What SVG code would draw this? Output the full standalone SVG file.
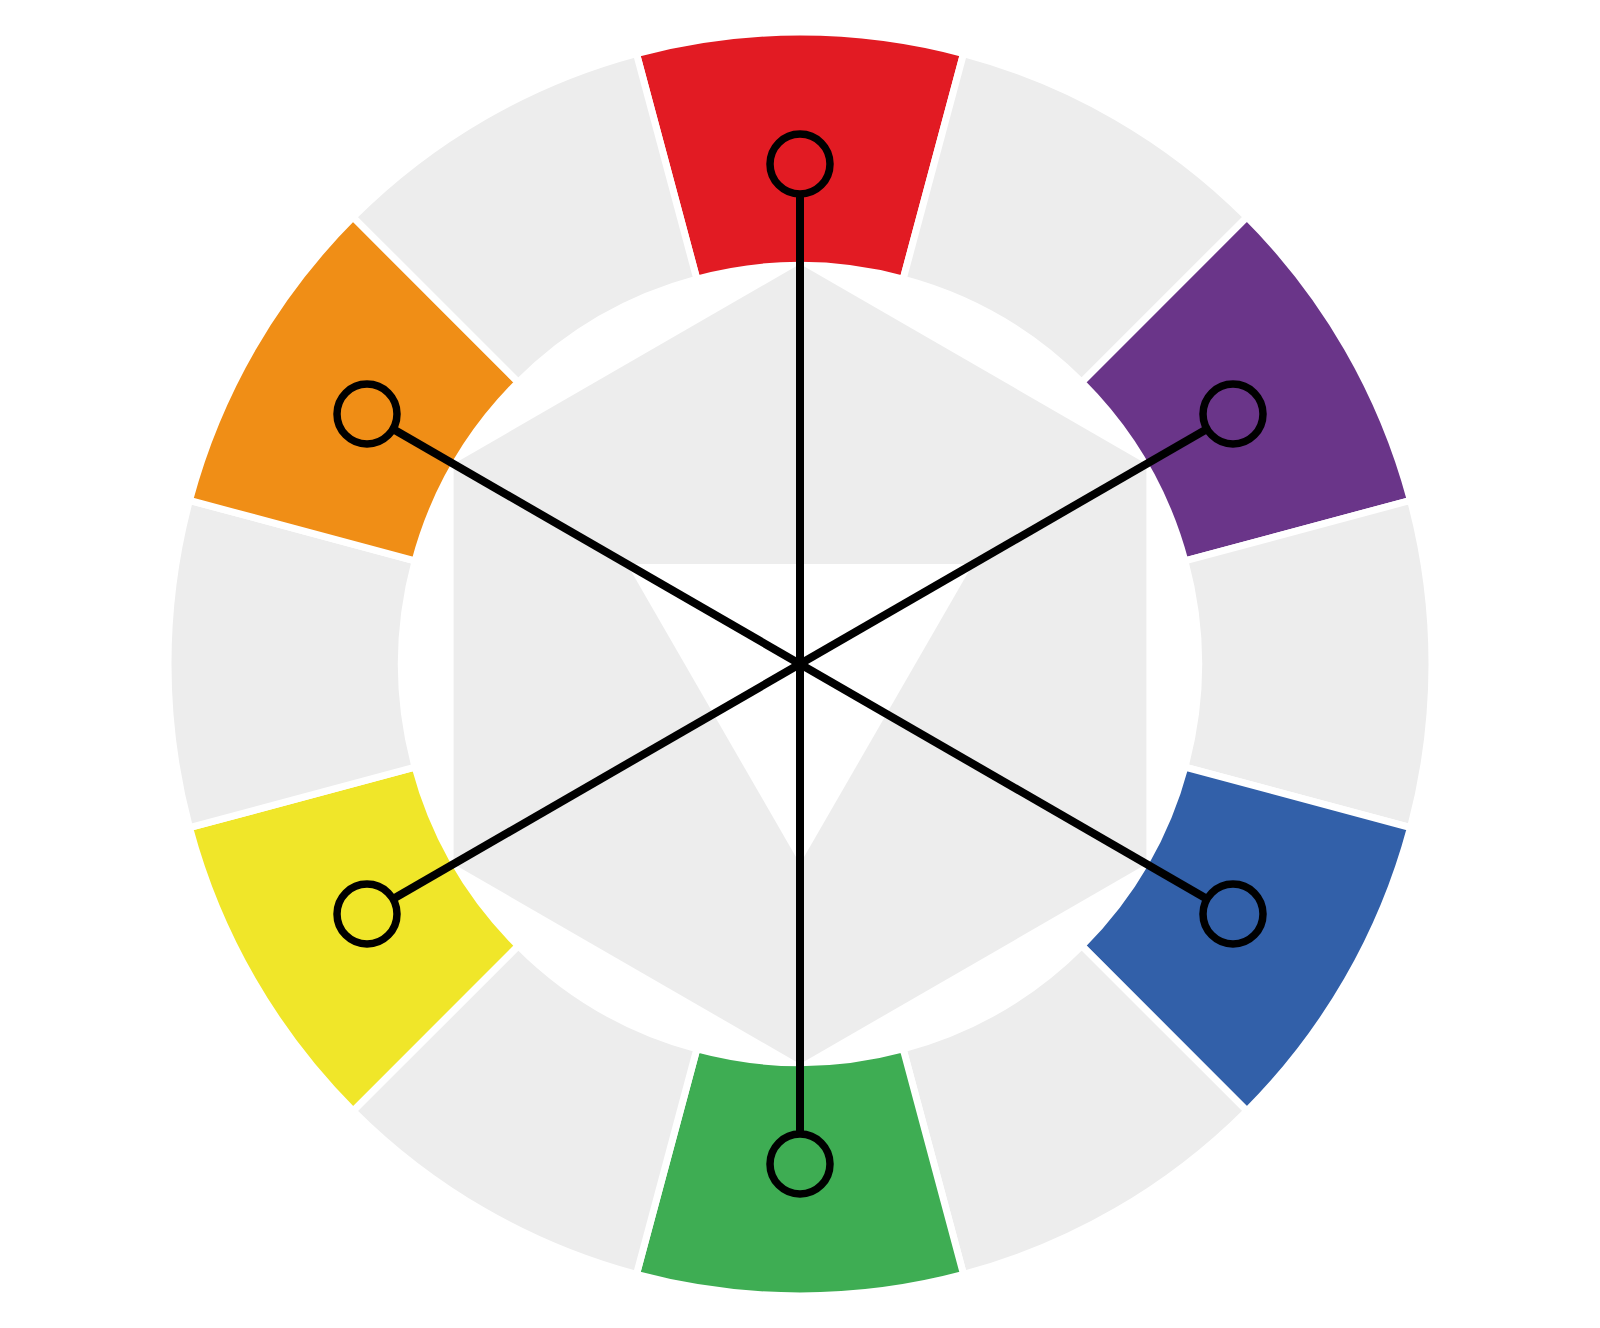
<svg xmlns="http://www.w3.org/2000/svg" width="1600" height="1328" viewBox="0 0 1600 1328">
<style>
.seg{stroke:#ffffff;stroke-width:7;stroke-linejoin:miter}
.grey{fill:#EDEDED}
.red{fill:#E21B23}
.orange{fill:#F08E16}
.yellow{fill:#F0E629}
.green{fill:#3EAD53}
.blue{fill:#3260A9}
.purple{fill:#6A3589}
.conn{stroke:#000;stroke-width:8;fill:none;stroke-linecap:butt}
.mark{stroke:#000;stroke-width:7.5}
</style>
<rect width="1600" height="1328" fill="#ffffff"/>
<g id="wheel">
<g id="seg-red"><path class="seg red" d="M963.57,53.53 A632,632 0 0 0 636.43,53.53 L696.86,279.08 A398.5,398.5 0 0 1 903.14,279.08 Z"/></g>
<g id="seg-grey-60"><path class="seg grey" d="M1246.89,217.11 A632,632 0 0 0 963.57,53.53 L903.14,279.08 A398.5,398.5 0 0 1 1081.78,382.22 Z"/></g>
<g id="seg-purple"><path class="seg purple" d="M1410.47,500.43 A632,632 0 0 0 1246.89,217.11 L1081.78,382.22 A398.5,398.5 0 0 1 1184.92,560.86 Z"/></g>
<g id="seg-grey-0"><path class="seg grey" d="M1410.47,827.57 A632,632 0 0 0 1410.47,500.43 L1184.92,560.86 A398.5,398.5 0 0 1 1184.92,767.14 Z"/></g>
<g id="seg-blue"><path class="seg blue" d="M1246.89,1110.89 A632,632 0 0 0 1410.47,827.57 L1184.92,767.14 A398.5,398.5 0 0 1 1081.78,945.78 Z"/></g>
<g id="seg-grey-300"><path class="seg grey" d="M963.57,1274.47 A632,632 0 0 0 1246.89,1110.89 L1081.78,945.78 A398.5,398.5 0 0 1 903.14,1048.92 Z"/></g>
<g id="seg-green"><path class="seg green" d="M636.43,1274.47 A632,632 0 0 0 963.57,1274.47 L903.14,1048.92 A398.5,398.5 0 0 1 696.86,1048.92 Z"/></g>
<g id="seg-grey-240"><path class="seg grey" d="M353.11,1110.89 A632,632 0 0 0 636.43,1274.47 L696.86,1048.92 A398.5,398.5 0 0 1 518.22,945.78 Z"/></g>
<g id="seg-yellow"><path class="seg yellow" d="M189.53,827.57 A632,632 0 0 0 353.11,1110.89 L518.22,945.78 A398.5,398.5 0 0 1 415.08,767.14 Z"/></g>
<g id="seg-grey-180"><path class="seg grey" d="M189.53,500.43 A632,632 0 0 0 189.53,827.57 L415.08,767.14 A398.5,398.5 0 0 1 415.08,560.86 Z"/></g>
<g id="seg-orange"><path class="seg orange" d="M353.11,217.11 A632,632 0 0 0 189.53,500.43 L415.08,560.86 A398.5,398.5 0 0 1 518.22,382.22 Z"/></g>
<g id="seg-grey-120"><path class="seg grey" d="M636.43,53.53 A632,632 0 0 0 353.11,217.11 L518.22,382.22 A398.5,398.5 0 0 1 696.86,279.08 Z"/></g>
</g>
<g id="hexagon"><polygon class="grey" points="800,264 1146.4,464 1146.4,864 800,1064 453.6,864 453.6,464"/></g>
<g id="center-triangle"><polygon fill="#ffffff" points="627,564 973,564 800,864"/></g>
<g id="connectors">
<line class="conn" x1="800" y1="164" x2="800" y2="1164"/>
<line class="conn" x1="367" y1="414" x2="1233" y2="914"/>
<line class="conn" x1="1233" y1="414" x2="367" y2="914"/>
</g>
<g id="marker-red"><circle class="mark red" cx="800" cy="164" r="30"/></g>
<g id="marker-purple"><circle class="mark purple" cx="1233" cy="414" r="30"/></g>
<g id="marker-blue"><circle class="mark blue" cx="1233" cy="914" r="30"/></g>
<g id="marker-green"><circle class="mark green" cx="800" cy="1164" r="30"/></g>
<g id="marker-yellow"><circle class="mark yellow" cx="367" cy="914" r="30"/></g>
<g id="marker-orange"><circle class="mark orange" cx="367" cy="414" r="30"/></g>
</svg>
